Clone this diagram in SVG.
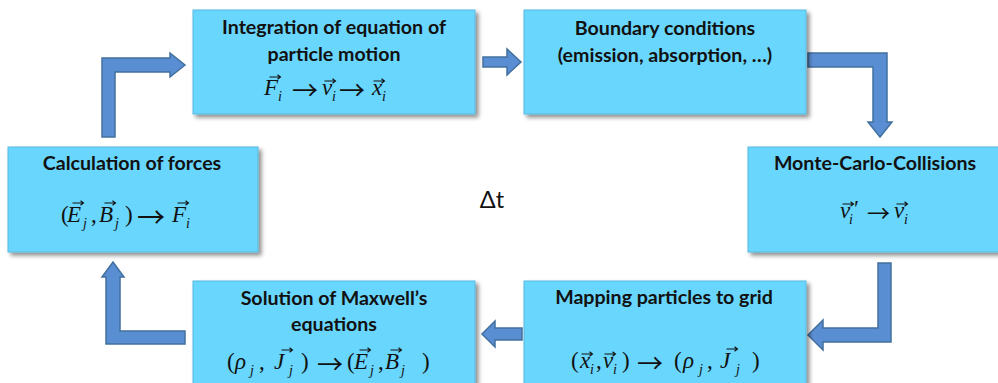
<svg xmlns="http://www.w3.org/2000/svg" xmlns:xlink="http://www.w3.org/1999/xlink" width="998" height="383" viewBox="0 0 998 383">
<defs>
<filter id="sh" x="-10%" y="-10%" width="130%" height="140%">
<feDropShadow dx="3" dy="3" stdDeviation="2" flood-color="#000" flood-opacity="0.45"/>
</filter>
<path id="vec" d="M-5.5,0 H5.5 M2.5,-2.3 L5.5,0 L2.5,2.3" fill="none" stroke="#111" stroke-width="1.1"/>
</defs>
<style>
.box{fill:#69D6FD;stroke:#58B9E0;stroke-width:1;filter:url(#sh)}
.lbl{font-family:Lato,"Open Sans",sans-serif;font-weight:bold;font-size:19.6px;fill:#111;text-anchor:middle}
.m{font-family:"Liberation Serif","DejaVu Serif",serif;font-size:23px;fill:#111}
.i{font-style:italic}
.s{font-style:italic;font-size:14px}
.a{font-family:"Noto Sans CJK SC","DejaVu Sans",sans-serif;font-size:26px;font-style:normal}
.arr{fill:#5A8ED3;stroke:#41709F;stroke-width:1.5;stroke-linejoin:miter}
.dt{font-family:Lato,"Open Sans",sans-serif;font-size:23.5px;fill:#111;text-anchor:middle}
</style>
<rect width="998" height="383" fill="#fff"/>
<g id="connectors">
<polygon class="arr" points="483,57 507,57 507,49 521,62 507,75 507,67 483,67"/>
<polygon class="arr" points="808,53 887,53 887,122 892,122 880,137 868,122 873,122 873,67 808,67"/>
<polygon class="arr" points="878,263 891,263 891,342 823,342 823,350 808,335 823,320 823,328 878,328"/>
<polygon class="arr" points="522,328 495,328 495,321 482,334 495,347 495,340 522,340"/>
<polygon class="arr" points="185,331 185,344 106,344 106,277 102,277 113,262 124,277 120,277 120,331"/>
<polygon class="arr" points="102,137 115,137 115,72 170,72 170,77 185,65 170,53 170,58 102,58"/>
</g>
<g id="integration">
<rect class="box" x="193" y="10" width="282" height="104"/>
<text class="lbl" x="334" y="34">Integration of equation of</text>
<text class="lbl" x="334" y="61">particle motion</text>
<text class="m" y="95"><tspan class="i" x="264">F</tspan><tspan class="s" x="278" y="101">i</tspan><tspan class="a" x="292" y="100">→</tspan><tspan class="i" x="322" y="95">v</tspan><tspan class="s" x="332" y="101">i</tspan><tspan class="a" x="339" y="100">→</tspan><tspan class="i" x="372" y="95">x</tspan><tspan class="s" x="382" y="101">i</tspan></text>
<use xlink:href="#vec" x="275" y="77"/>
<use xlink:href="#vec" x="330" y="81"/>
<use xlink:href="#vec" x="379" y="81"/>
</g>
<g id="boundary">
<rect class="box" x="524" y="10" width="282" height="104"/>
<text class="lbl" x="665" y="35">Boundary conditions</text>
<text class="lbl" x="665" y="62">(emission, absorption, …)</text>
</g>
<g id="montecarlo">
<rect class="box" x="748" y="147" width="252" height="105"/>
<text class="lbl" x="875" y="170">Monte-Carlo-Collisions</text>
<text class="m" y="218"><tspan class="i" x="840">v</tspan><tspan class="s" x="849" y="224">i</tspan><tspan x="854" y="216">′</tspan><tspan class="a" x="867" y="222" style="font-size:23px">→</tspan><tspan class="i" x="894" y="218">v</tspan><tspan class="s" x="904" y="224">i</tspan></text>
<use xlink:href="#vec" x="848" y="204"/>
<use xlink:href="#vec" x="902" y="204"/>
</g>
<g id="forces">
<rect class="box" x="8" y="147" width="250" height="105"/>
<text class="lbl" x="132" y="170">Calculation of forces</text>
<text class="m" y="222"><tspan x="61">(</tspan><tspan class="i" x="67">E</tspan><tspan class="s" x="83" y="228">j</tspan><tspan x="91" y="222">,</tspan><tspan class="i" x="99">B</tspan><tspan class="s" x="115" y="228">j</tspan><tspan x="125" y="222">)</tspan><tspan class="a" x="137" y="228" style="font-size:28px">→</tspan><tspan class="i" x="172" y="222">F</tspan><tspan class="s" x="186" y="228">i</tspan></text>
<use xlink:href="#vec" x="78" y="203"/>
<use xlink:href="#vec" x="110" y="203"/>
<use xlink:href="#vec" x="183" y="203"/>
</g>
<g id="maxwell">
<rect class="box" x="193" y="281" width="282" height="110"/>
<text class="lbl" x="334" y="305">Solution of Maxwell’s</text>
<text class="lbl" x="334" y="331">equations</text>
<text class="m" y="369"><tspan x="227">(</tspan><tspan class="i" x="235">ρ</tspan><tspan class="s" x="250" y="375">j</tspan><tspan x="259" y="369">,</tspan><tspan class="i" x="274">J</tspan><tspan class="s" x="289" y="375">j</tspan><tspan x="301" y="369">)</tspan><tspan class="a" x="317" y="374">→</tspan><tspan x="347" y="369">(</tspan><tspan class="i" x="354">E</tspan><tspan class="s" x="370" y="375">j</tspan><tspan x="378" y="369">,</tspan><tspan class="i" x="385">B</tspan><tspan class="s" x="401" y="375">j</tspan><tspan x="422" y="369">)</tspan></text>
<use xlink:href="#vec" x="287" y="350"/>
<use xlink:href="#vec" x="365" y="350"/>
<use xlink:href="#vec" x="396" y="350"/>
</g>
<g id="mapping">
<rect class="box" x="524" y="281" width="282" height="110"/>
<text class="lbl" x="664" y="304">Mapping particles to grid</text>
<text class="m" y="368"><tspan x="571">(</tspan><tspan class="i" x="580">x</tspan><tspan class="s" x="590" y="374">i</tspan><tspan x="596" y="368">,</tspan><tspan class="i" x="603">v</tspan><tspan class="s" x="613" y="374">i</tspan><tspan x="622" y="368">)</tspan><tspan class="a" x="637" y="373">→</tspan><tspan x="674" y="368">(</tspan><tspan class="i" x="683">ρ</tspan><tspan class="s" x="699" y="374">j</tspan><tspan x="707" y="368">,</tspan><tspan class="i" x="720">J</tspan><tspan class="s" x="736" y="374">j</tspan><tspan x="752" y="368">)</tspan></text>
<use xlink:href="#vec" x="587" y="354"/>
<use xlink:href="#vec" x="610" y="354"/>
<use xlink:href="#vec" x="732" y="349"/>
</g>
<g id="deltat">
<text class="dt" x="492" y="208">Δt</text>
</g>
</svg>
